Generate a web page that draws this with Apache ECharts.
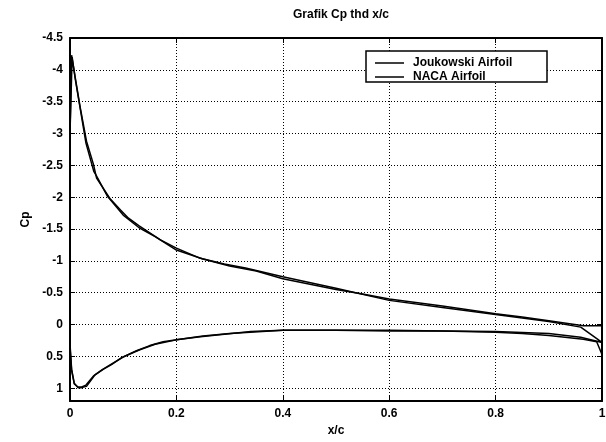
<!DOCTYPE html>
<html>
<head>
<meta charset="utf-8">
<title>Grafik Cp thd x/c</title>
<script src="https://cdn.jsdelivr.net/npm/echarts@6/dist/echarts.min.js"></script>
<style>
	html, body { margin: 0; padding: 0; background: #fff; }
	#chart_1 { width: 606px; height: 442px; }
</style>
</head>
<body>
<div id="chart_1"></div>
<script>
// 数据: x/c 和 Cp, 从 TE 上表面 -> LE -> 下表面 -> TE
var seriesNames = ['Joukowski Airfoil', 'NACA Airfoil'];

var joukX = [1.0, 0.96, 0.9, 0.8, 0.7, 0.6, 0.5, 0.4, 0.33, 0.29, 0.245, 0.2, 0.17, 0.13, 0.11, 0.095, 0.075, 0.05, 0.044, 0.031, 0.019, 0.009, 0.003,
	0.0, 0.0, 0.003, 0.008, 0.015, 0.022, 0.031, 0.047, 0.063, 0.078, 0.097, 0.125, 0.15, 0.175, 0.2, 0.245, 0.29, 0.34, 0.4, 0.5, 0.6, 0.7, 0.8, 0.9, 0.96, 1.0];
var joukCp = [0.28, 0.04, -0.05, -0.16, -0.27, -0.38, -0.57, -0.75, -0.89, -0.95, -1.04, -1.2, -1.33, -1.55, -1.67, -1.8, -1.98, -2.3, -2.52, -2.88, -3.42, -3.92, -4.23,
	-3.0, 0.3, 0.7, 0.92, 0.99, 0.99, 0.97, 0.79, 0.7, 0.63, 0.52, 0.41, 0.33, 0.27, 0.24, 0.19, 0.15, 0.11, 0.09, 0.09, 0.09, 0.1, 0.11, 0.14, 0.2, 0.28];

var nacaX = [1.0, 0.965, 0.9, 0.85, 0.8, 0.7, 0.6, 0.55, 0.5, 0.4, 0.35, 0.3, 0.25, 0.2, 0.16, 0.13, 0.1, 0.07, 0.05, 0.045, 0.03, 0.02, 0.01, 0.004,
	0.0, 0.0, 0.003, 0.008, 0.015, 0.022, 0.03, 0.045, 0.06, 0.08, 0.1, 0.13, 0.16, 0.2, 0.25, 0.3, 0.4, 0.5, 0.6, 0.7, 0.8, 0.85, 0.9, 0.965, 0.99, 1.0, 1.0];
var nacaCp = [0.02, 0.02, -0.06, -0.12, -0.17, -0.29, -0.4, -0.48, -0.55, -0.72, -0.84, -0.92, -1.03, -1.17, -1.38, -1.52, -1.72, -2.02, -2.33, -2.4, -2.85, -3.35, -3.85, -4.2,
	-3.0, 0.35, 0.72, 0.93, 0.98, 0.98, 0.95, 0.8, 0.71, 0.61, 0.51, 0.4, 0.31, 0.24, 0.18, 0.14, 0.09, 0.09, 0.1, 0.1, 0.12, 0.14, 0.17, 0.23, 0.27, 0.47, 0.02];

var xTicks = [0, 0.2, 0.4, 0.6, 0.8, 1];
var yTicks = [-4.5, -4, -3.5, -3, -2.5, -2, -1.5, -1, -0.5, 0, 0.5, 1];

(function() {
	var myChart = echarts.init(document.getElementById('chart_1'));
	var font = "'Liberation Sans', Arial, sans-serif";

	function pairs(xs, ys) {
		var out = [];
		for (var i = 0; i < xs.length; i++) out.push([xs[i], ys[i]]);
		return out;
	}

	// 只显示刻度表里的值, 1.2 那个端点不显示
	function yLabel(v) {
		for (var i = 0; i < yTicks.length; i++) {
			if (Math.abs(yTicks[i] - v) < 1e-6) return String(yTicks[i]);
		}
		return '';
	}

	function xLabel(v) {
		for (var i = 0; i < xTicks.length; i++) {
			if (Math.abs(xTicks[i] - v) < 1e-6) return String(xTicks[i]);
		}
		return '';
	}

	var lineBlack = { color: '#000', width: 2 };
	var tickIn = { show: true, inside: true, length: 5, lineStyle: { color: '#000', width: 1 } };

	var option = {
		animation: false,
		backgroundColor: '#fff',
		textStyle: { fontFamily: font },
		title: {
			text: 'Grafik Cp thd x/c',
			left: 336,
			textAlign: 'center',
			top: 4,
			textStyle: { fontFamily: font, fontSize: 12, fontWeight: 'bold', color: '#000' }
		},
		grid: {
			left: 70,
			right: 4,
			top: 38,
			bottom: 41,
			outerBoundsMode: 'none'
		},
		legend: {
			data: seriesNames,
			orient: 'vertical',
			left: 375,
			top: 56,
			padding: 0,
			itemGap: 0,
			itemWidth: 29,
			itemHeight: 1.5,
			icon: 'rect',
			z: 20,
			textStyle: { fontFamily: font, fontSize: 12, fontWeight: 'bold', color: '#000', padding: [0, 0, 0, 4], lineHeight: 14 }
		},
		// 图例的白底黑框
		graphic: [{
			type: 'rect',
			z: 10,
			shape: { x: 366, y: 51, width: 181, height: 31 },
			style: { fill: '#fff', stroke: '#000', lineWidth: 1.5 }
		}],
		xAxis: [{
			type: 'value',
			min: 0,
			max: 1,
			interval: 0.2,
			name: 'x/c',
			nameLocation: 'middle',
			nameGap: 24,
			nameTextStyle: { fontFamily: font, fontSize: 12, fontWeight: 'bold', color: '#000' },
			axisLine: { show: true, onZero: false, lineStyle: lineBlack },
			axisTick: tickIn,
			axisLabel: { margin: 7, fontFamily: font, fontSize: 12, fontWeight: 'bold', color: '#000', formatter: xLabel },
			splitLine: { show: true, lineStyle: { color: '#000', width: 1, type: [1, 2] } }
		}, {
			type: 'value',
			position: 'top',
			min: 0,
			max: 1,
			interval: 0.2,
			axisLine: { show: true, onZero: false, lineStyle: lineBlack },
			axisTick: tickIn,
			axisLabel: { show: false },
			splitLine: { show: false }
		}],
		yAxis: [{
			type: 'value',
			inverse: true,
			min: -4.5,
			max: 1.2,
			interval: 0.5,
			name: 'Cp',
			nameLocation: 'middle',
			nameGap: 34,
			nameTextStyle: { fontFamily: font, fontSize: 12, fontWeight: 'bold', color: '#000' },
			axisLine: { show: true, onZero: false, lineStyle: lineBlack },
			axisTick: tickIn,
			axisLabel: { margin: 7, fontFamily: font, fontSize: 12, fontWeight: 'bold', color: '#000', formatter: yLabel },
			splitLine: { show: true, lineStyle: { color: '#000', width: 1, type: [1, 2] } }
		}, {
			type: 'value',
			position: 'right',
			inverse: true,
			min: -4.5,
			max: 1.2,
			interval: 0.5,
			axisLine: { show: true, onZero: false, lineStyle: lineBlack },
			axisTick: tickIn,
			axisLabel: { show: false },
			splitLine: { show: false }
		}],
		series: [{
			name: seriesNames[0],
			type: 'line',
			showSymbol: false,
			data: pairs(joukX, joukCp),
			itemStyle: { color: '#000' },
			lineStyle: { color: '#000', width: 1.5 }
		}, {
			name: seriesNames[1],
			type: 'line',
			showSymbol: false,
			data: pairs(nacaX, nacaCp),
			itemStyle: { color: '#000' },
			lineStyle: { color: '#000', width: 1.5 }
		}]
	};

	myChart.setOption(option);
	window.addEventListener("resize", function() {
		myChart.resize();
	});
})();
</script>
</body>
</html>
